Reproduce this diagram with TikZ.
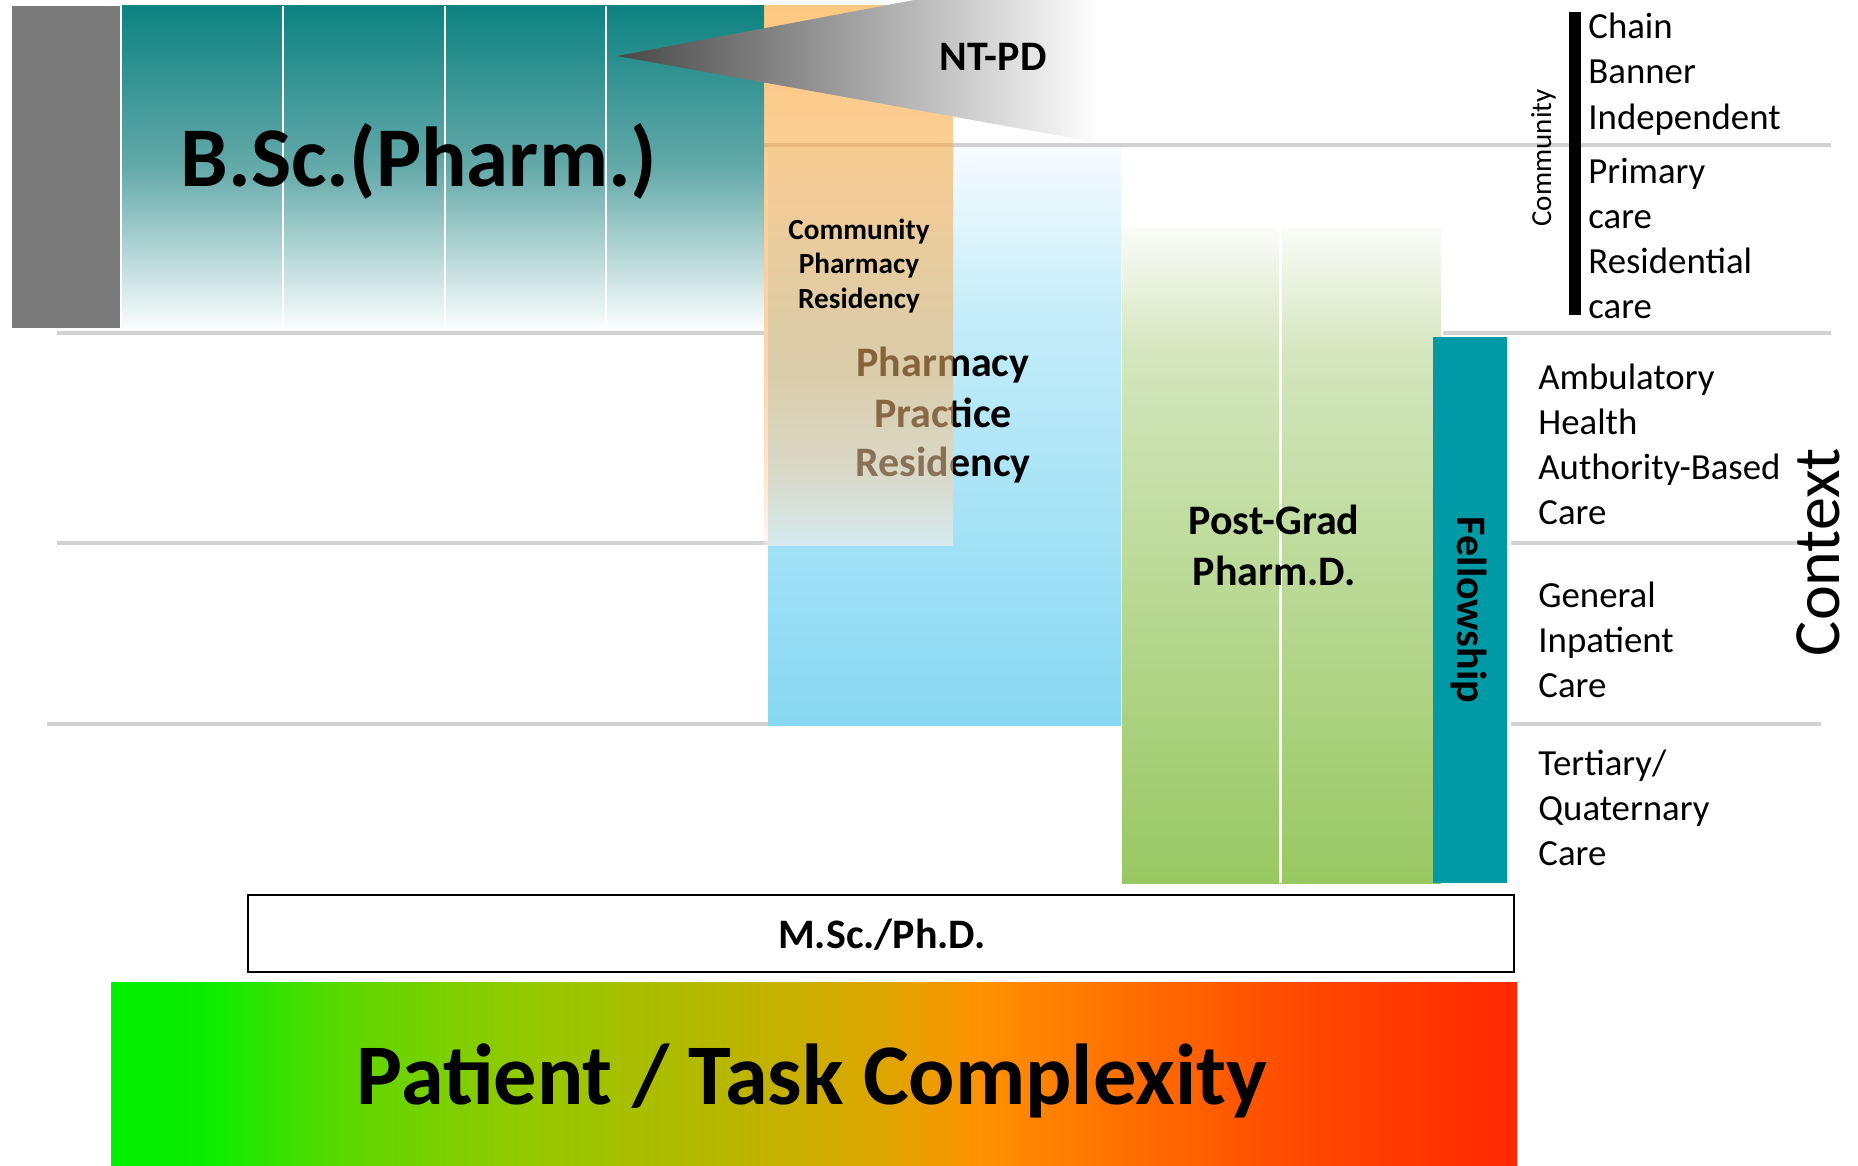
\documentclass[tikz,border=0pt]{standalone}
\usepackage{fontspec}
\setmainfont{Carlito}
\definecolor{sepgray}{RGB}{210,210,210}
\definecolor{boxgray}{RGB}{122,122,122}
\definecolor{tealtop}{RGB}{13,131,129}
\definecolor{tealmid}{RGB}{100,169,169}
\definecolor{tealbot}{RGB}{250,253,253}
\definecolor{bluetop}{RGB}{246,251,254}
\definecolor{bluemid}{RGB}{195,236,249}
\definecolor{bluebot}{RGB}{135,216,243}
\definecolor{greentop}{RGB}{250,251,247}
\definecolor{greenmid}{RGB}{212,230,190}
\definecolor{greenbot}{RGB}{152,200,98}
\definecolor{orangetop}{RGB}{251,155,27}
\definecolor{orangemid}{RGB}{245,182,109}
\definecolor{orangelow}{RGB}{255,209,164}
\definecolor{orangebot}{RGB}{255,240,232}
\definecolor{fellow}{RGB}{0,154,166}
\definecolor{cA}{RGB}{0,240,0}
\definecolor{cB}{RGB}{12,237,0}
\definecolor{cC}{RGB}{95,215,0}
\definecolor{cD}{RGB}{150,200,0}
\definecolor{cE}{RGB}{182,184,0}
\definecolor{cF}{RGB}{222,165,0}
\definecolor{cG}{RGB}{255,145,0}
\definecolor{cH}{RGB}{255,112,0}
\definecolor{cI}{RGB}{255,72,0}
\definecolor{cJ}{RGB}{255,40,0}
\pgfdeclareverticalshading{bscshade}{100bp}{color(0bp)=(tealbot); color(25bp)=(tealbot); color(50bp)=(tealmid); color(75bp)=(tealtop); color(100bp)=(tealtop)}
\pgfdeclareverticalshading{blueshade}{100bp}{color(0bp)=(bluebot); color(25bp)=(bluebot); color(60bp)=(bluemid); color(75bp)=(bluetop); color(100bp)=(bluetop)}
\pgfdeclareverticalshading{greenshade}{100bp}{color(0bp)=(greenbot); color(25bp)=(greenbot); color(65.5bp)=(greenmid); color(75bp)=(greentop); color(100bp)=(greentop)}
\pgfdeclareverticalshading{orangeshade}{100bp}{color(0bp)=(orangebot); color(25bp)=(orangebot); color(31.5bp)=(orangelow); color(40.7bp)=(orangemid); color(75bp)=(orangetop); color(100bp)=(orangetop)}
\pgfdeclarehorizontalshading{cplx}{100bp}{color(0bp)=(cA); color(25bp)=(cA); color(28.5bp)=(cB); color(33.5bp)=(cC); color(40bp)=(cD); color(46.5bp)=(cE); color(52.5bp)=(cF); color(56bp)=(cG); color(61bp)=(cH); color(67.5bp)=(cI); color(75bp)=(cJ); color(100bp)=(cJ)}
\tikzset{
  sep/.style={draw=sepgray, line width=2pt},
  lbl/.style={font=\fontsize{18.4}{18.4}\selectfont, anchor=base west, inner sep=0pt},
  bigbold/.style={font=\bfseries\fontsize{21}{21}\selectfont, anchor=base, inner sep=0pt},
  smallbold/.style={font=\bfseries\fontsize{14.6}{14.6}\selectfont, anchor=base, inner sep=0pt},
}
\begin{document}
\begin{tikzpicture}[x=0.5pt,y=-0.5pt]
\useasboundingbox (0,0) rectangle (1858,1166);
\clip (0,0) rectangle (1858,1166);
% separator lines
\draw[sep] (57,333) -- (764,333);
\draw[sep] (764,145) -- (1831,145);
\draw[sep] (1443,333) -- (1831,333);
\draw[sep] (57,543) -- (768,543);
\draw[sep] (1511,543) -- (1821,543);
\draw[sep] (47,724) -- (768,724);
\draw[sep] (1511,724) -- (1821,724);
% B.Sc.
\fill[boxgray] (12,6) rectangle (120,328);
\shade[shading=bscshade] (122,6) rectangle (764,328);
\foreach \x in {283,445,606} \draw[white, line width=1pt] (\x,6) -- (\x,328);
\node[font=\bfseries\fontsize{42.5}{42.5}\selectfont, anchor=base, inner sep=0pt] (bsc) at (419,187) {B.Sc.(Pharm.)};
% Pharmacy practice residency
\shade[shading=blueshade] (768,148) rectangle (1121,725);
\node[bigbold] (ppr1) at (943,376) {Pharmacy};
\node[bigbold] (ppr2) at (943,427) {Practice};
\node[bigbold] (ppr3) at (943,476) {Residency};
% Community pharmacy residency
\shade[shading=orangeshade, opacity=0.55] (764,6) rectangle (953,545);
\node[smallbold] (cpr1) at (859,240) {Community};
\node[smallbold] (cpr2) at (859,274) {Pharmacy};
\node[smallbold] (cpr3) at (859,308) {Residency};
% NT-PD
\shade[left color=black!72, right color=white] (617,56) -- (1100,-35) -- (1100,143) -- cycle;
\node[bigbold] (ntpd) at (993,71) {NT-PD};
% Post-grad Pharm.D.
\shade[shading=greenshade] (1122,229) rectangle (1441,883);
\draw[white, line width=1.5pt] (1280,229) -- (1280,883);
\node[bigbold] (pg1) at (1274,534) {Post-Grad};
\node[bigbold] (pg2) at (1274,585) {Pharm.D.};
% Fellowship
\fill[fellow] (1433,337) rectangle (1507,883);
\node[font=\bfseries\fontsize{21}{21}\selectfont, rotate=-90, inner sep=0pt] (fel) at (1469,610) {Fellowship};
% M.Sc./Ph.D.
\draw[black, line width=1.3pt, fill=white] (248,895) rectangle (1514,972);
\node[bigbold] (msc) at (882,948) {M.Sc./Ph.D.};
% complexity
\shade[shading=cplx] (111,982) rectangle (1517,1166);
\node[font=\bfseries\fontsize{43.2}{43.2}\selectfont, anchor=base, inner sep=0pt] (cplxt) at (812,1104) {Patient / Task Complexity};
% right side context
\fill[black] (1569,12) rectangle (1581,315);
\node[font=\fontsize{14.5}{14.5}\selectfont, rotate=90, anchor=base, inner sep=0pt] (comm) at (1551,158) {Community};
\node[lbl] (t1) at (1588,39) {Chain};
\node[lbl] (t2) at (1588,84) {Banner};
\node[lbl] (t3) at (1588,130) {Independent};
\node[lbl] (t4) at (1588,184) {Primary};
\node[lbl] (t5) at (1588,229) {care};
\node[lbl] (t6) at (1588,274) {Residential};
\node[lbl] (t7) at (1588,319) {care};
\node[lbl] (a1) at (1538,389) {Ambulatory};
\node[lbl] (a2) at (1538,434) {Health};
\node[lbl] (a3) at (1538,479) {Authority-Based};
\node[lbl] (a4) at (1538,524) {Care};
\node[lbl] (g1) at (1538,607) {General};
\node[lbl] (g2) at (1538,652) {Inpatient};
\node[lbl] (g3) at (1538,697) {Care};
\node[lbl] (q1) at (1538,775) {Tertiary/};
\node[lbl] (q2) at (1538,820) {Quaternary};
\node[lbl] (q3) at (1538,865) {Care};
\node[font=\fontsize{33}{33}\selectfont, rotate=90, anchor=base, inner sep=0pt] (ctx) at (1839,552) {Context};
\end{tikzpicture}
\end{document}
